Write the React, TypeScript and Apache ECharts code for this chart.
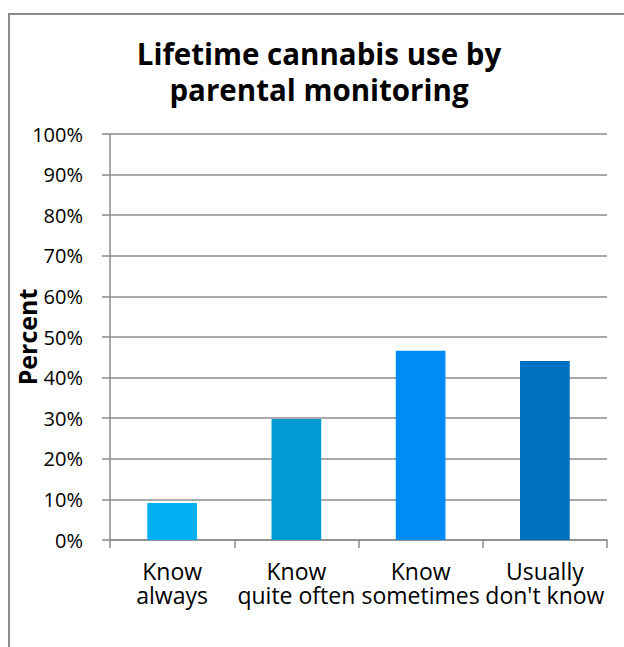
import React, { useEffect, useRef } from "react";
import * as echarts from "echarts";

const categories = ["Know\nalways", "Know\nquite often", "Know\nsometimes", "Usually\ndon't know"];
const values = [9.1, 29.8, 46.6, 44.1];
const barColors = ["#00B0F0", "#009BD5", "#008BF5", "#0070C0"];
const titleText = "Lifetime cannabis use by\nparental monitoring";
const yAxisName = "Percent";

export default function App() {
  const ref = useRef<HTMLDivElement>(null);
  useEffect(() => {
    if (!ref.current) return;
    const chart = echarts.init(ref.current, undefined, { renderer: "svg" });
    const font = "'Open Sans', 'DejaVu Sans', sans-serif";
    chart.setOption({
      animation: false,
      backgroundColor: "#ffffff",
      graphic: [
        {
          type: "rect",
          shape: { x: 9, y: 14, width: 700, height: 700 },
          style: { fill: "none", stroke: "#8c8c8c", lineWidth: 2 },
          silent: true,
          z: -1,
        },
      ],
      title: {
        text: titleText,
        left: 314,
        top: 30,
        textAlign: "center",
        textStyle: {
          fontFamily: font,
          fontWeight: "bold",
          fontSize: 29.5,
          lineHeight: 36,
          color: "#000000",
        },
      },
      grid: {
        left: 110,
        right: 17,
        top: 134,
        bottom: 107,
        containLabel: false,
        outerBoundsMode: "none",
      },
      xAxis: {
        type: "category",
        data: categories,
        axisLine: { show: true, lineStyle: { color: "#8c8c8c", width: 1.5 } },
        axisTick: { show: true, length: 8, lineStyle: { color: "#8c8c8c", width: 1.5 } },
        axisLabel: {
          interval: 0,
          margin: 19,
          fontFamily: font,
          fontSize: 23,
          lineHeight: 24,
          color: "#000000",
        },
      },
      yAxis: {
        type: "value",
        min: 0,
        max: 100,
        interval: 10,
        name: yAxisName,
        nameLocation: "middle",
        nameRotate: 90,
        nameGap: 71,
        nameMoveOverlap: false,
        nameTextStyle: {
          fontFamily: font,
          fontWeight: "bold",
          fontSize: 25,
          color: "#000000",
        },
        axisLine: { show: true, lineStyle: { color: "#8c8c8c", width: 1.5 } },
        axisTick: { show: true, length: 8, lineStyle: { color: "#8c8c8c", width: 1.5 } },
        splitLine: { show: true, lineStyle: { color: "#8c8c8c", width: 1.5 } },
        axisLabel: {
          formatter: "{value}%",
          margin: 27,
          fontFamily: font,
          fontSize: 20,
          color: "#000000",
        },
      },
      series: [
        {
          type: "bar",
          barWidth: "40%",
          data: values.map((v, i) => ({ value: v, itemStyle: { color: barColors[i] } })),
        },
      ],
    });
    return () => chart.dispose();
  }, []);
  return (
    <div
      ref={ref}
      style={{ position: "fixed", left: 0, top: 0, width: 624, height: 647 }}
    />
  );
}
